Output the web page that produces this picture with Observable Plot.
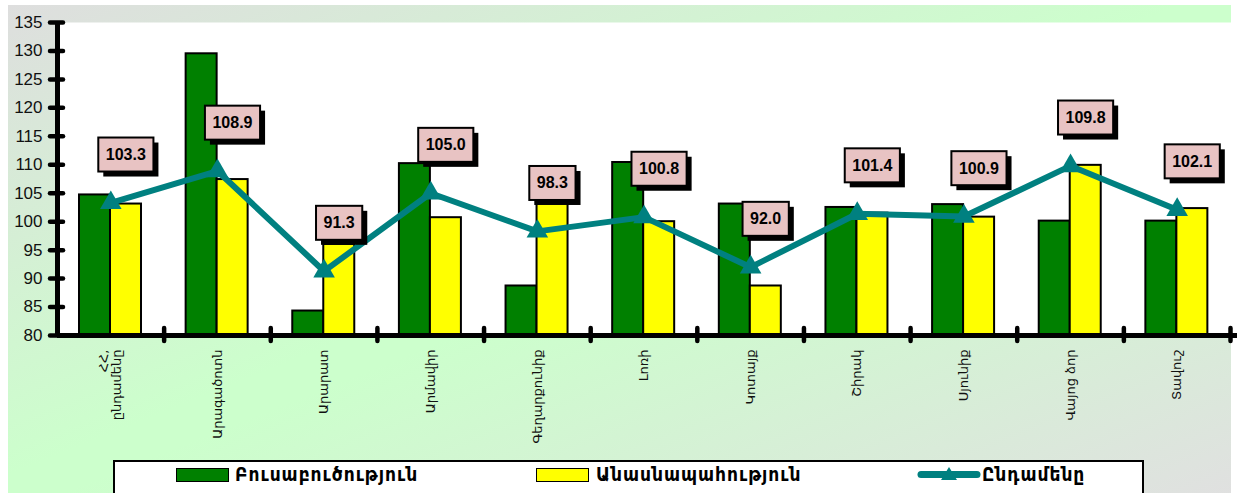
<!DOCTYPE html>
<html>
<head>
<meta charset="utf-8">
<script src="https://cdn.jsdelivr.net/npm/d3@7"></script>
<script src="https://cdn.jsdelivr.net/npm/@observablehq/plot@0.6"></script>
<style>
  body { margin: 0; background: #fff; }
  #wrap { position: relative; width: 1237px; height: 493px; overflow: hidden; }
  #bg { position: absolute; left: 8px; top: 5px; width: 1223px; height: 490px;
        background: linear-gradient(to bottom right, #dedede 0%, #ccffcc 48%, #ccffcc 52%, #e0e0e0 100%); }
  #chart { position: absolute; left: 0; top: 0; }
  #legend { position: absolute; left: 113px; top: 460px; width: 1031px; height: 45px;
            background: #fff; border: 2px solid #000; box-sizing: border-box;
            font-family: "DejaVu Sans Condensed", "DejaVu Sans", sans-serif; font-weight: bold; font-size: 19px;
            letter-spacing: 1px; color: #000; }
  .sw { position: absolute; top: 6px; width: 51px; height: 12px; border: 1.5px solid #000; }
  .lt { position: absolute; top: 1px; line-height: 22px; white-space: nowrap; }
</style>
</head>
<body>
<div id="wrap">
  <div id="bg"></div>
  <div id="chart"></div>
  <div id="legend"></div>
</div>
<script>
// ---- data ----
const categories = ["ՀՀ,\nընդամենը", "Արագածոտն", "Արարատ", "Արմավիր", "Գեղարքունիք", "Լոռի", "Կոտայք", "Շիրակ", "Սյունիք", "Վայոց ձոր", "Տավուշ"];
const cropValues      = [104.7, 129.5, 84.3, 110.2, 88.7, 110.4, 103.1, 102.5, 103.0, 100.1, 100.1];
const livestockValues = [103.1, 107.4, 96.0, 100.7, 103.3, 100.0, 88.7, 101.5, 100.8, 109.9, 102.3];
const totalValues     = [103.3, 108.9, 91.3, 105.0, 98.3, 100.8, 92.0, 101.4, 100.9, 109.8, 102.1];
const yTicks = [80, 85, 90, 95, 100, 105, 110, 115, 120, 125, 130, 135];
const seriesNames = ["Բուսաբուծություն", "Անասնապահություն", "Ընդամենը"];
const seriesColors = ["#008000", "#ffff00", "#008080"];

const rows = categories.map((c, i) => ({cat: c, crop: cropValues[i], live: livestockValues[i], total: totalValues[i]}));

// ---- layout ----
const W = 1237, H = 455, xL = 57, xR = 1230, mTop = 22, yBottom = 335;
const bw = (xR - xL) / categories.length;
const yMin = yTicks[0], yMax = yTicks[yTicks.length - 1];

const plot = Plot.plot({
  width: W, height: H,
  marginLeft: xL, marginRight: 0, marginTop: mTop, marginBottom: H - yBottom,
  style: {background: "transparent", fontFamily: "'Liberation Sans', Arial, sans-serif", overflow: "visible"},
  x: {type: "band", domain: categories, range: [xL, xR], padding: 0, round: false},
  y: {domain: [yMin, yMax]},
  marks: [
    Plot.frame({fill: "white", stroke: null}),
    Plot.barY(rows, {x: "cat", y1: yMin, y2: "crop", fill: seriesColors[0], stroke: "#000", strokeWidth: 2,
      insetLeft: 22, insetRight: bw - 53}),
    Plot.barY(rows, {x: "cat", y1: yMin, y2: "live", fill: seriesColors[1], stroke: "#000", strokeWidth: 2,
      insetLeft: 53, insetRight: bw - 84}),
    Plot.axisY({ticks: yTicks, tickSize: 0, tickPadding: 15, fontSize: 17, label: null, fill: "#111"}),
    Plot.axisY({ticks: yTicks, tickSize: 13, dx: 6, tickFormat: () => "", label: null, strokeWidth: 4.5, strokeLinecap: "round", stroke: "#000"}),
    Plot.axisX({tickSize: 13, dx: bw / 2, dy: -7, tickFormat: () => "", label: null, strokeWidth: 4.5, strokeLinecap: "round", stroke: "#000"}),
    Plot.axisX({tickSize: 0, tickPadding: 14, tickRotate: -90, fontSize: 13, label: null,
      fontFamily: "'DejaVu Sans', sans-serif", fill: "#111"}),
    Plot.ruleY([yMin], {stroke: "#000", strokeWidth: 5}),
    Plot.ruleX([categories[0]], {x: d => d, y1: yMin, y2: yMax, dx: -bw / 2, stroke: "#000", strokeWidth: 5}),
    Plot.line(rows, {x: "cat", y: "total", stroke: seriesColors[2], strokeWidth: 6}),
    Plot.dot(rows, {x: "cat", y: "total", symbol: "triangle", fill: seriesColors[2], r: 8}),
    Plot.text(rows, {x: "cat", y: "total", text: d => d.total.toFixed(1), dx: 15, dy: -48,
      fontSize: 16, fontWeight: "bold", fill: "#000"})
  ]
});
document.getElementById("chart").appendChild(plot);

// boxes behind value labels, sized from the rendered text
const ns = "http://www.w3.org/2000/svg";
const grp = plot.querySelector('g[aria-label="text"]');
if (grp) {
  grp.querySelectorAll("text").forEach(t => {
    const b = t.getBBox();
    const tr = t.getAttribute("transform");
    const padX = 7.5, padY = 8.5;
    const mk = (off, fill) => {
      const r = document.createElementNS(ns, "rect");
      r.setAttribute("x", b.x - padX + off);
      r.setAttribute("y", b.y - padY + off);
      r.setAttribute("width", b.width + 2 * padX);
      r.setAttribute("height", b.height + 2 * padY);
      r.setAttribute("fill", fill);
      if (off === 0) { r.setAttribute("stroke", "#000"); r.setAttribute("stroke-width", "2"); }
      if (tr) r.setAttribute("transform", tr);
      t.parentNode.insertBefore(r, t);
    };
    mk(5, "#000");
    mk(0, "#e8c3c3");
  });
}

// legend
const lg = document.getElementById("legend");
lg.innerHTML = `
  <div class="sw" style="left:61px;background:${seriesColors[0]}"></div>
  <div class="lt" style="left:120px">${seriesNames[0]}</div>
  <div class="sw" style="left:421px;background:${seriesColors[1]}"></div>
  <div class="lt" style="left:481px">${seriesNames[1]}</div>
  <svg style="position:absolute;left:800px;top:2px" width="70" height="22">
    <line x1="6" y1="10.5" x2="62" y2="10.5" stroke="${seriesColors[2]}" stroke-width="7" stroke-linecap="round"/>
    <path d="M34,3 L42,16 L26,16 Z" fill="${seriesColors[2]}"/>
  </svg>
  <div class="lt" style="left:867px">${seriesNames[2]}</div>
`;
</script>
</body>
</html>
